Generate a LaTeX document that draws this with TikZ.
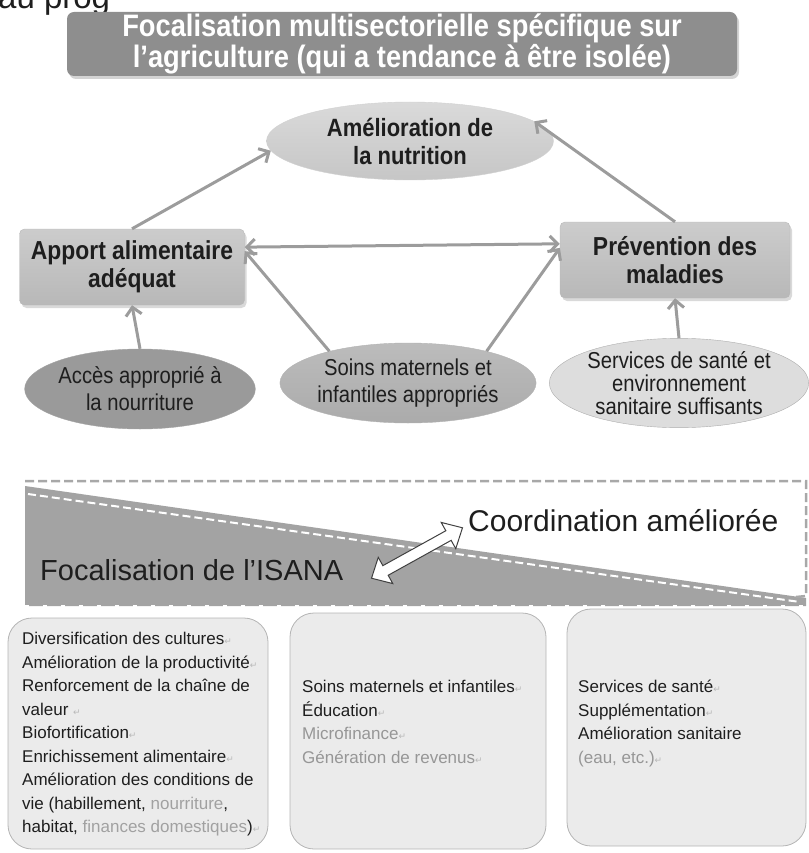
\documentclass[tikz,border=0pt]{standalone}
\usepackage{fontspec}
\setmainfont{Liberation Sans}
\newfontfamily\narrowfont[FakeStretch=0.88]{Liberation Sans}
\newfontfamily\symfont{DejaVu Sans}
\usetikzlibrary{shapes.geometric,arrows.meta,shadows}
\definecolor{titlegray}{HTML}{8E8E8E}
\definecolor{boxgray}{HTML}{B8B8B8}
\definecolor{boxgraytop}{HTML}{CCCCCC}
\definecolor{arrowgray}{HTML}{9C9C9C}
\definecolor{accgray}{HTML}{9A9A9A}
\definecolor{soingray}{HTML}{ABABAB}
\definecolor{servgray}{HTML}{DDDDDD}
\definecolor{nutgray}{HTML}{C6C6C6}
\definecolor{bandgray}{HTML}{A3A3A3}
\definecolor{dashgray}{HTML}{A8A8A8}
\definecolor{panelgray}{HTML}{EBEBEB}
\definecolor{panelline}{HTML}{B4B4B4}
\definecolor{inkgray}{HTML}{1E1E1E}
\definecolor{softgray}{HTML}{8A8A8A}
\newcommand{\pmark}{{\symfont\fontsize{9}{9}\selectfont\textcolor{softgray!60}{↵}}}
\begin{document}
\begin{tikzpicture}[x=1pt,y=-1pt,
  titlebox/.style={fill=titlegray, rounded corners=7pt, minimum width=670pt, minimum height=64pt,
    text=white, align=center, inner sep=0pt,
    font=\narrowfont\bfseries\fontsize{31}{27}\selectfont,
    drop shadow={shadow xshift=2pt, shadow yshift=-3pt, opacity=0.35}},
  keybox/.style={rounded corners=5pt, top color=boxgraytop, bottom color=boxgray, draw=boxgray,
    minimum width=225pt, minimum height=76pt, align=center, inner sep=0pt, text=inkgray,
    font=\narrowfont\bfseries\fontsize{26}{28}\selectfont,
    drop shadow={shadow xshift=2pt, shadow yshift=-3pt, opacity=0.3}},
  oval/.style={ellipse, inner sep=0pt, align=center, text=inkgray,
    font=\narrowfont\fontsize{23}{27}\selectfont},
  conn/.style={draw=arrowgray, line width=3pt, -{Straight Barb[length=8pt,width=16pt]}},
  conn2/.style={draw=arrowgray, line width=3pt, {Straight Barb[length=8pt,width=16pt]}-{Straight Barb[length=8pt,width=16pt]}},
  panel/.style={fill=panelgray, draw=panelline, line width=0.8pt, rounded corners=24pt},
  paneltext/.style={anchor=north west, align=left, inner sep=0pt, text=inkgray,
    font=\fontsize{17}{23.5}\selectfont},
  bigtext/.style={inner sep=0pt, text=inkgray}
]
\useasboundingbox (0,0) rectangle (808,853);

% partial heading cut at the top
\node[anchor=base west, inner sep=0pt, font=\fontsize{33}{33}\selectfont, text=inkgray] (cut) at (-2,9) {au prog};

% title
\node[titlebox] (title) at (402,44) {Focalisation multisectorielle spécifique sur\\l’agriculture (qui a tendance à être isolée)};

% nutrition
\node[oval, minimum width=287pt, minimum height=78pt, top color=nutgray!65, bottom color=nutgray, draw=nutgray!80,
  font=\narrowfont\bfseries\fontsize{25}{28}\selectfont]
  (nutr) at (410,141) {Amélioration de\\la nutrition};

% middle boxes
\node[keybox] (apport) at (132,267) {Apport alimentaire\\adéquat};
\node[keybox, minimum width=230pt] (prev) at (675,260) {Prévention des\\maladies};

% lower ovals
\node[oval, minimum width=222pt, minimum height=80pt, fill=accgray, draw=accgray!90] (acces) at (140,389) {Accès approprié à\\la nourriture};
\node[oval, minimum width=210pt, minimum height=80pt, top color=soingray!80, bottom color=soingray, draw=soingray!90] (soins) at (408,383) {Soins maternels et\\infantiles appropriés};
\node[oval, minimum width=232pt, minimum height=88pt, fill=servgray, draw=softgray!70,
  font=\narrowfont\fontsize{23}{23}\selectfont] (serv) at (679,383) {Services de santé et\\environnement\\sanitaire suffisants};

% connectors
\draw[conn] (apport.north) -- (nutr.184);
\draw[conn] (prev.north) -- (nutr.9);
\draw[conn2] (apport.10) -- (prev.172);
\draw[conn] (acces.north) -- (apport.south);
\draw[conn] (serv.north) -- (prev.south);
\draw[conn] (soins.158) -- (apport.8);
\draw[conn] (soins.22) -- (prev.174);

% coordination band
\fill[bandgray] (25,486) -- (806,598) -- (806,606) -- (25,606) -- cycle;
\draw[dashgray, line width=2.5pt, dash pattern=on 9pt off 4pt] (25,481) -- (806,481) -- (806,596) -- (796,597);
\draw[white, line width=2pt, dash pattern=on 8pt off 4pt] (28,494) -- (800,602);
\draw[white, line width=1.5pt, dash pattern=on 4pt off 14pt] (25,606) -- (806,606);

\node[bigtext, anchor=west, font=\fontsize{30}{32}\selectfont] (coord) at (468,521) {Coordination améliorée};
\node[bigtext, anchor=west, font=\fontsize{29}{31}\selectfont] (isana) at (40,570) {Focalisation de l’ISANA};

% block double arrow
\begin{scope}[shift={(417,553)}, rotate=29]
  \draw[fill=white, draw=black!75, line width=1pt, line join=miter]
    (-52,0) -- (-36,-15) -- (-36,-5.5) -- (36,-5.5) -- (36,-15) -- (52,0)
    -- (36,15) -- (36,5.5) -- (-36,5.5) -- (-36,15) -- cycle;
\end{scope}

% bottom panels
\draw[panel] (8,618) rectangle (268,849);
\draw[panel] (290,613) rectangle (546,849);
\draw[panel] (567,609) rectangle (806,846);

\node[paneltext] (p1) at (22,632) {Diversification des cultures\pmark\\
Amélioration de la productivité\pmark\\
Renforcement de la chaîne de\\
valeur \pmark\\
Biofortification\pmark\\
Enrichissement alimentaire\pmark\\
Amélioration des conditions de\\
vie (habillement, \textcolor{softgray!80}{nourriture},\\
habitat, \textcolor{softgray!80}{finances domestiques})\pmark};

\node[paneltext] (p2) at (302,680) {Soins maternels et infantiles\pmark\\
Éducation\pmark\\
\textcolor{softgray!90}{Microfinance}\pmark\\
\textcolor{softgray!90}{Génération de revenus}\pmark};

\node[paneltext] (p3) at (578,680) {Services de santé\pmark\\
Supplémentation\pmark\\
Amélioration sanitaire\\
\textcolor{softgray!90}{(eau, etc.)}\pmark};
\end{tikzpicture}
\end{document}
